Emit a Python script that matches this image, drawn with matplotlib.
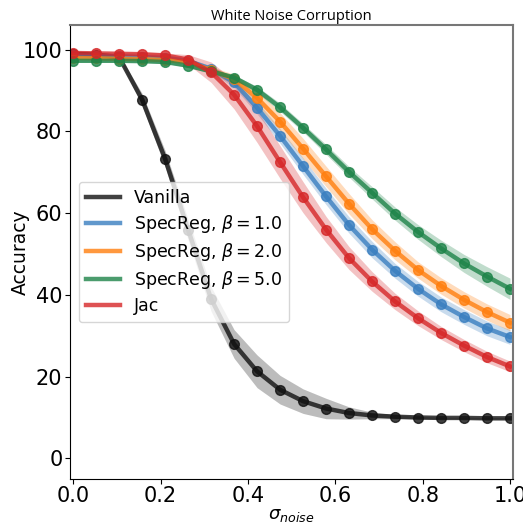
import numpy as np
import matplotlib
matplotlib.use('Agg')
import matplotlib.pyplot as plt

sigma = np.linspace(0, 1, 20)

vanilla = [99.0, 98.8, 98.2, 87.8, 73.3, 56.0, 39.0, 28.0, 21.3, 16.8,
           14.0, 12.2, 11.1, 10.5, 10.2, 10.0, 9.9, 9.9, 9.8, 9.8]
vanilla_std = [0.3, 0.3, 0.5, 1.5, 2.0, 2.5, 3.0, 3.5, 4.0, 3.5,
               3.0, 2.5, 1.5, 0.8, 0.5, 0.3, 0.2, 0.2, 0.2, 0.2]
spec1 = [98.6, 98.5, 98.4, 98.2, 98.0, 97.3, 95.3, 92.0, 85.8, 78.9,
         71.5, 64.1, 57.1, 51.1, 45.9, 41.5, 37.7, 34.6, 31.8, 29.7]
spec1_std = [0.3, 0.3, 0.3, 0.3, 0.4, 0.5, 0.8, 1.2, 1.5, 1.8,
             2.0, 2.0, 2.0, 2.0, 1.8, 1.8, 1.8, 1.8, 1.8, 1.8]
spec2 = [98.0, 97.9, 97.8, 97.7, 97.5, 97.0, 95.0, 92.8, 88.2, 82.4,
         75.8, 69.0, 62.3, 56.1, 50.8, 46.1, 42.2, 38.8, 35.8, 33.2]
spec2_std = [0.3, 0.3, 0.3, 0.3, 0.4, 0.5, 0.8, 1.2, 1.8, 2.2,
             2.5, 2.5, 2.5, 2.3, 2.2, 2.0, 2.0, 2.0, 2.0, 2.0]
spec5 = [97.3, 97.3, 97.3, 97.2, 97.0, 96.1, 94.7, 93.2, 90.2, 85.9,
         80.9, 75.6, 70.1, 65.0, 59.9, 55.4, 51.4, 47.7, 44.5, 41.5]
spec5_std = [0.3, 0.3, 0.3, 0.3, 0.3, 0.4, 0.5, 0.6, 0.8, 1.0,
             1.0, 1.2, 1.3, 1.5, 1.6, 1.8, 2.0, 2.2, 2.4, 2.6]
jac = [99.2, 99.1, 99.0, 98.9, 98.6, 97.6, 94.5, 89.0, 81.3, 72.5,
       63.9, 56.0, 49.0, 43.3, 38.4, 34.3, 30.7, 27.6, 24.8, 22.5]
jac_std = [0.3, 0.3, 0.3, 0.4, 0.6, 1.2, 2.5, 3.5, 4.0, 4.0,
           3.8, 3.2, 2.8, 2.4, 2.0, 1.8, 1.6, 1.5, 1.4, 1.3]

labels = ['Vanilla', r'SpecReg, $\beta=1.0$', r'SpecReg, $\beta=2.0$',
          r'SpecReg, $\beta=5.0$', 'Jac']
colors = ['#111111', '#3a7fc0', '#ff7f0e', '#1e8449', '#d62728']
series = [(vanilla, vanilla_std), (spec1, spec1_std), (spec2, spec2_std),
          (spec5, spec5_std), (jac, jac_std)]

fig = plt.figure(figsize=(5.23, 5.25), dpi=100)
ax = fig.add_axes([0.134, 0.088, 0.847, 0.864])

for (m, s), c, lab in zip(series, colors, labels):
    m = np.array(m)
    s = np.array(s)
    ax.fill_between(sigma, m - s, m + s, color=c, alpha=0.28, lw=0)
    ax.plot(sigma, m, '-', color=c, lw=3.2, alpha=0.8, label=lab)
    ax.plot(sigma, m, 'o', color=c, ms=7, alpha=0.8)

ax.set_xlim(-0.007, 1.007)
ax.set_ylim(-5, 106)
ax.set_xticks([0, 0.2, 0.4, 0.6, 0.8, 1.0])
ax.set_yticks([0, 20, 40, 60, 80, 100])
ax.tick_params(labelsize=15, pad=2)
ax.set_xlabel(r'$\sigma_{noise}$', fontsize=13, labelpad=0)
ax.set_ylabel('Accuracy', fontsize=13.5)
ax.yaxis.set_label_coords(-0.09, 0.5)
ax.set_title('White Noise Corruption', fontsize=10.5, family='Open Sans', pad=4)
for side in ['top', 'right']:
    ax.spines[side].set_color('#777777')
    ax.spines[side].set_linewidth(1.5)

ax.legend(loc='center left', fontsize=12.5, handlelength=2.0, labelspacing=0.35)

fig.savefig('out.png', dpi=100)
